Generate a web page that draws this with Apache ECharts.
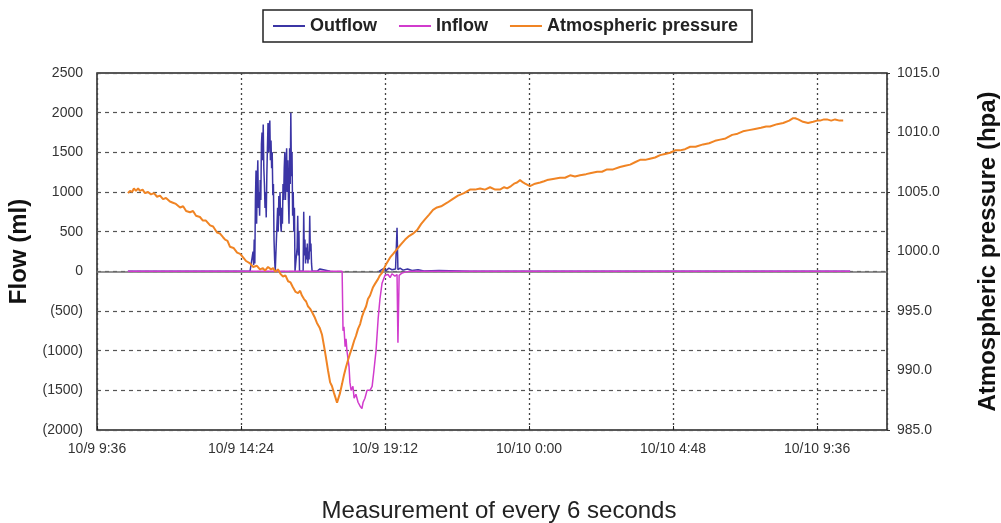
<!DOCTYPE html>
<html>
<head>
<meta charset="utf-8">
<script src="https://cdn.jsdelivr.net/npm/echarts@6/dist/echarts.min.js"></script>
<style>
  html, body { margin: 0; padding: 0; background: #fff; }
  #chart { width: 1001px; height: 523px; }
</style>
</head>
<body>
<div id="chart"></div>
<script>
// Time is expressed in hours counted from 10/9 0:00.
var xTickHours  = [9.6, 14.4, 19.2, 24, 28.8, 33.6];
var xTickLabels = ['10/9 9:36', '10/9 14:24', '10/9 19:12', '10/10 0:00', '10/10 4:48', '10/10 9:36'];
var timeStart = 9.6;
var timeEnd = 35.93;

// Outflow (ml); '-' marks the stretch with no outflow reading
var outflowHours = [10.63, 14.70, 14.80, 14.82, 14.84, 14.86, 14.88, 14.90, 14.92, 14.94, 14.96, 14.98,
  15.00, 15.02, 15.04, 15.06, 15.08, 15.10, 15.12, 15.14, 15.16, 15.18, 15.20, 15.22, 15.24, 15.26,
  15.28, 15.30, 15.32, 15.34, 15.36, 15.38, 15.40, 15.42, 15.44, 15.46, 15.48, 15.50, 15.52, 15.54,
  15.60, 15.62, 15.64, 15.66, 15.68, 15.70, 15.72, 15.74, 15.76, 15.78, 15.80, 15.82, 15.84, 15.86,
  15.88, 15.90, 15.92, 15.94, 15.96, 15.98, 16.00, 16.02, 16.04, 16.06, 16.08, 16.10, 16.12, 16.14,
  16.16, 16.18, 16.20, 16.25, 16.27, 16.29, 16.31, 16.33, 16.35, 16.47, 16.49, 16.51, 16.53, 16.55,
  16.57, 16.59, 16.61, 16.63, 16.65, 16.67, 16.69, 16.71, 16.73, 16.75, 16.77, 16.93, 17.03, 17.37,
  17.45,
  19.00, 19.13, 19.23, 19.33, 19.43, 19.55, 19.60, 19.63, 19.70, 19.80, 19.95, 20.10, 20.30, 20.50,
  21.00, 22.00, 34.70];
var outflowValues = [0, 0, 250, 80, 400, 100, 900, 1270, 600, 1100, 1400, 800,
  1000, 700, 1150, 900, 1600, 1750, 1400, 1850, 1300, 1100, 800, 1000, 680, 1200,
  1550, 1870, 1500, 1800, 1900, 1400, 1650, 1300, 1500, 960, 1100, 400, 150, 0,
  0, 800, 500, 950, 700, 1000, 600, 500, 800, 600, 1100, 900, 1300, 1500,
  900, 1200, 1550, 1000, 1400, 900, 600, 1550, 1100, 2000, 1200, 1500, 700, 1000,
  500, 800, 0, 0, 300, 700, 200, 500, 0, 0, 750, 200, 400, 100,
  300, 150, 350, 100, 250, 150, 700, 250, 350, 100, 0, 0, 30, 0,
  '-',
  0, 30, 10, 40, 20, 30, 550, 20, 40, 15, 30, 10, 20, 5,
  10, 0, 0];

// Inflow (ml), negative values below the zero line
var inflowHours = [10.63, 17.77, 17.80, 17.83, 17.87, 17.90, 17.93, 18.00, 18.03, 18.07, 18.13, 18.17,
  18.23, 18.30, 18.37, 18.43, 18.47, 18.53, 18.60, 18.70, 18.77, 18.83, 18.90, 18.97, 19.03, 19.10,
  19.20, 19.30, 19.37, 19.43, 19.53, 19.60, 19.63, 19.67, 19.77, 19.87, 20.03, 34.70];
var inflowValues = [0, 0, -750, -700, -950, -850, -1000, -1200, -1400, -1500, -1450, -1600,
  -1550, -1650, -1700, -1730, -1650, -1600, -1500, -1500, -1450, -1250, -1000, -600, -350, -150,
  -50, -40, -80, -30, -60, -40, -900, -50, -20, -10, 0, 0];

// Atmospheric pressure (hPa)
var pressureHours = [10.63, 10.70, 10.77, 10.83, 10.90, 10.97, 11.03, 11.12, 11.20, 11.30, 11.40, 11.50,
  11.60, 11.70, 11.80, 11.90, 12.03, 12.13, 12.23, 12.37, 12.47, 12.57, 12.70, 12.80, 12.90, 13.03,
  13.13, 13.23, 13.37, 13.47, 13.60, 13.70, 13.80, 13.87, 13.95, 14.03, 14.15, 14.27, 14.37, 14.47,
  14.57, 14.70, 14.80, 14.93, 15.03, 15.13, 15.20, 15.30, 15.40, 15.47, 15.55, 15.63, 15.72, 15.80,
  15.88, 15.97, 16.05, 16.13, 16.22, 16.30, 16.37, 16.43, 16.50, 16.57, 16.63, 16.70, 16.77, 16.85,
  16.93, 17.02, 17.10, 17.17, 17.23, 17.30, 17.37, 17.43, 17.50, 17.55, 17.60, 17.65, 17.70, 17.77,
  17.83, 17.90, 17.97, 18.03, 18.10, 18.17, 18.23, 18.30, 18.37, 18.43, 18.50, 18.57, 18.63, 18.70,
  18.80, 18.87, 18.97, 19.03, 19.10, 19.17, 19.23, 19.30, 19.37, 19.47, 19.60, 19.73, 19.87, 20.00,
  20.13, 20.27, 20.40, 20.53, 20.67, 20.80, 20.93, 21.07, 21.27, 21.45, 21.63, 21.83, 22.03, 22.20,
  22.37, 22.53, 22.70, 22.87, 23.03, 23.17, 23.27, 23.40, 23.50, 23.60, 23.70, 23.80, 23.87, 23.95,
  24.03, 24.20, 24.37, 24.50, 24.60, 24.80, 25.03, 25.20, 25.37, 25.53, 25.70, 25.90, 26.07, 26.27,
  26.43, 26.60, 26.80, 27.03, 27.20, 27.37, 27.53, 27.70, 27.87, 28.03, 28.20, 28.37, 28.53, 28.70,
  28.87, 29.03, 29.20, 29.37, 29.55, 29.80, 30.00, 30.20, 30.37, 30.55, 30.77, 30.95, 31.13, 31.33,
  31.53, 31.73, 31.90, 32.03, 32.27, 32.47, 32.67, 32.80, 32.87, 32.97, 33.05, 33.13, 33.30, 33.47,
  33.60, 33.70, 33.83, 33.93, 34.07, 34.20, 34.35, 34.47];
var pressureValues = [1004.9, 1005.1, 1005.0, 1005.3, 1005.1, 1005.3, 1005.1, 1005.2, 1004.9, 1005.0, 1004.8, 1004.9,
  1004.6, 1004.7, 1004.4, 1004.5, 1004.2, 1004.1, 1004.0, 1003.7, 1003.8, 1003.4, 1003.3, 1003.4, 1003.0, 1002.9,
  1002.6, 1002.6, 1002.2, 1002.1, 1001.6, 1001.5, 1001.2, 1001.0, 1000.9, 1000.4, 1000.3, 999.9, 999.8, 999.5,
  999.2, 999.0, 998.7, 998.8, 998.5, 998.6, 998.4, 998.7, 998.5, 998.6, 998.3, 998.5, 998.1, 997.9,
  998.0, 997.5, 997.4, 997.0, 996.6, 996.5, 996.7, 996.3, 996.0, 995.8, 995.4, 995.2, 994.9, 994.5,
  994.0, 993.6, 993.0, 992.0, 991.1, 990.0, 989.0, 988.7, 988.1, 987.7, 987.3, 987.7, 988.1, 988.9,
  989.6, 990.3, 990.9, 991.4, 991.9, 992.5, 992.9, 993.5, 993.9, 994.5, 995.0, 995.4, 996.0, 996.3,
  997.0, 997.3, 997.7, 998.0, 998.2, 998.6, 998.9, 999.2, 999.5, 999.8, 1000.2, 1000.6, 1001.0, 1001.3,
  1001.5, 1001.8, 1002.3, 1002.7, 1003.1, 1003.5, 1003.7, 1003.8, 1004.1, 1004.4, 1004.7, 1004.9, 1005.2, 1005.2,
  1005.3, 1005.2, 1005.4, 1005.2, 1005.2, 1005.4, 1005.3, 1005.5, 1005.7, 1005.8, 1006.0, 1005.8, 1005.7, 1005.6,
  1005.5, 1005.7, 1005.8, 1005.9, 1006.0, 1006.1, 1006.2, 1006.2, 1006.4, 1006.3, 1006.4, 1006.5, 1006.6, 1006.7,
  1006.7, 1006.9, 1006.9, 1007.1, 1007.2, 1007.3, 1007.5, 1007.7, 1007.7, 1007.8, 1007.9, 1008.1, 1008.2, 1008.3,
  1008.5, 1008.5, 1008.6, 1008.8, 1008.8, 1009.0, 1009.1, 1009.3, 1009.4, 1009.5, 1009.8, 1009.9, 1010.1, 1010.2,
  1010.3, 1010.4, 1010.5, 1010.5, 1010.7, 1010.8, 1011.0, 1011.2, 1011.2, 1011.1, 1011.0, 1010.9, 1010.8, 1010.9,
  1011.0, 1011.0, 1011.1, 1011.1, 1011.0, 1011.1, 1011.0, 1011.0];

function pairs(xs, ys) {
  return xs.map(function (x, i) { return [x, ys[i]]; });
}

function timeLabel(v) {
  for (var i = 0; i < xTickHours.length; i++) {
    if (Math.abs(xTickHours[i] - v) < 0.01) return xTickLabels[i];
  }
  return '';
}

var chart = echarts.init(document.getElementById('chart'), null, { renderer: 'canvas' });

var labelFont = "'Liberation Sans', Arial, sans-serif";

chart.setOption({
  animation: false,
  backgroundColor: '#ffffff',
  legend: {
    data: ['Outflow', 'Inflow', 'Atmospheric pressure'],
    left: 263,
    top: 10,
    icon: 'rect',
    itemWidth: 32,
    itemHeight: 2,
    itemGap: 22,
    padding: [7, 14, 7, 10],
    borderColor: '#222',
    borderWidth: 1.5,
    textStyle: { fontFamily: labelFont, fontWeight: 'bold', fontSize: 18, color: '#222' }
  },
  grid: {
    left: 97, right: 114, top: 73, bottom: 93,
    outerBoundsMode: 'none',
    containLabel: false,
    show: true,
    borderColor: '#222',
    borderWidth: 1.5,
    backgroundColor: 'transparent'
  },
  xAxis: [{
    type: 'value',
    min: timeStart,
    max: timeEnd,
    interval: 4.8,
    position: 'bottom',
    axisLine: { show: false, onZero: false },
    axisTick: { show: true, inside: true, length: 4, lineStyle: { color: '#222' } },
    axisLabel: {
      formatter: timeLabel,
      showMaxLabel: false,
      fontFamily: labelFont, fontSize: 14, color: '#333', margin: 12
    },
    splitLine: { show: true, lineStyle: { type: [2, 3], color: '#444', width: 1.3 } },
    name: 'Measurement of every 6 seconds',
    nameLocation: 'middle',
    nameGap: 69,
    nameTextStyle: { fontFamily: labelFont, fontSize: 24, color: '#222', padding: [0, 0, 0, 14] }
  }, {
    // zero line of the flow scale
    type: 'value',
    min: timeStart,
    max: timeEnd,
    position: 'top',
    axisLine: { show: true, onZero: true, lineStyle: { color: '#707070', width: 1.5 } },
    axisTick: { show: false },
    axisLabel: { show: false },
    splitLine: { show: false }
  }],
  yAxis: [{
    type: 'value',
    min: -2000,
    max: 2500,
    interval: 500,
    axisLine: { show: false, onZero: false },
    axisTick: { show: false },
    axisLabel: {
      formatter: function (v) { return v < 0 ? '(' + (-v) + ')' : String(v); },
      fontFamily: labelFont, fontSize: 14, color: '#333', margin: 14
    },
    splitLine: { show: true, lineStyle: { type: [4, 4], color: '#555', width: 1.2 } },
    name: 'Flow (ml)',
    nameLocation: 'middle',
    nameRotate: 90,
    nameGap: 62,
    nameTextStyle: { fontFamily: labelFont, fontWeight: 'bold', fontSize: 24, color: '#111' }
  }, {
    type: 'value',
    min: 985,
    max: 1015,
    interval: 5,
    position: 'right',
    axisLine: { show: false, onZero: false },
    axisTick: { show: true, length: 3, lineStyle: { color: '#333' } },
    axisLabel: {
      formatter: function (v) { return v.toFixed(1); },
      fontFamily: labelFont, fontSize: 14, color: '#333', margin: 10
    },
    splitLine: { show: false },
    name: 'Atmospheric pressure (hpa)',
    nameLocation: 'middle',
    nameRotate: 90,
    nameGap: 89,
    nameTextStyle: { fontFamily: labelFont, fontWeight: 'bold', fontSize: 24, color: '#111' }
  }],
  series: [{
    name: 'Outflow',
    type: 'line',
    xAxisIndex: 0,
    yAxisIndex: 0,
    data: pairs(outflowHours, outflowValues),
    showSymbol: false,
    connectNulls: false,
    color: '#3b35a5',
    lineStyle: { width: 1.5, color: '#3b35a5' },
    z: 3
  }, {
    name: 'Inflow',
    type: 'line',
    xAxisIndex: 0,
    yAxisIndex: 0,
    data: pairs(inflowHours, inflowValues),
    showSymbol: false,
    color: '#d13bcd',
    lineStyle: { width: 1.5, color: '#d13bcd' },
    z: 4
  }, {
    name: 'Atmospheric pressure',
    type: 'line',
    xAxisIndex: 0,
    yAxisIndex: 1,
    data: pairs(pressureHours, pressureValues),
    showSymbol: false,
    color: '#f08424',
    lineStyle: { width: 2, color: '#f08424' },
    z: 5
  }]
});
</script>
</body>
</html>
